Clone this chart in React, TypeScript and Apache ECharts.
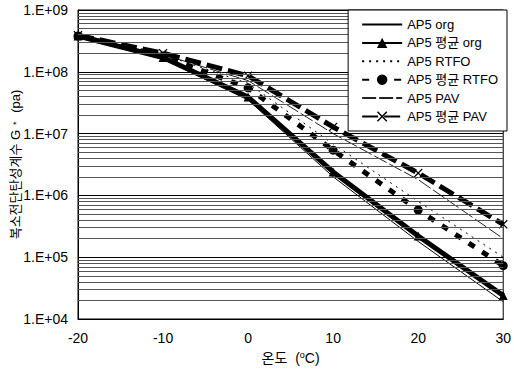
import React, { useEffect, useRef } from "react";
import * as echarts from "echarts";

const temps = [-20, -10, 0, 10, 20, 30];
const org = [3.6e8, 1.6e8, 3.5e7, 2.0e6, 1.8e5, 1.9e4];
const orgAvg = [3.8e8, 1.7e8, 3.9e7, 2.4e6, 2.2e5, 2.4e4];
const rtfo = [3.8e8, 1.9e8, 6.5e7, 6.8e6, 8.0e5, 1.0e5];
const rtfoAvg = [3.8e8, 1.8e8, 5.5e7, 5.4e6, 5.8e5, 7.3e4];
const pav = [3.8e8, 1.9e8, 7.2e7, 1.0e7, 1.8e6, 2.0e5];
const pavAvg = [3.9e8, 2.0e8, 8.6e7, 1.28e7, 2.3e6, 3.4e5];
const seriesNames = ["AP5 org", "AP5 평균 org", "AP5 RTFO", "AP5 평균 RTFO", "AP5 PAV", "AP5 평균 PAV"];
const decades = [4, 5, 6, 7, 8];
const minorSteps = [2, 3, 4, 5, 6, 7, 8, 9];

const FONT = "'Liberation Sans', Arial, 'Noto Sans CJK KR', sans-serif";
const X_SYMBOL = "path://M0,1 L1,0 L5,4 L9,0 L10,1 L6,5 L10,9 L9,10 L5,6 L1,10 L0,9 L4,5 Z";

const pairs = (ys: number[]) => temps.map((t, i) => [t, ys[i]]);

export default function App() {
  const ref = useRef<HTMLDivElement>(null);
  useEffect(() => {
    if (!ref.current) return;
    const chart = echarts.init(ref.current, undefined, { renderer: "svg" });
    const minorLines: any[] = [];
    decades.forEach((d) => minorSteps.forEach((m) => minorLines.push({ yAxis: m * Math.pow(10, d) })));
    const thin = (name: string, ys: number[], type: any, color = "#000") => ({
      name,
      type: "line",
      data: pairs(ys),
      symbol: "none",
      showSymbol: false,
      lineStyle: { color, width: 1, type },
      itemStyle: { color: "transparent", borderWidth: 0 },
      z: 3,
    });
    chart.setOption({
      animation: false,
      backgroundColor: "#fff",
      textStyle: { fontFamily: FONT },
      grid: { left: 78, right: 7, top: 10, bottom: 53, show: true, borderColor: "#000", borderWidth: 1 },
      legend: {
        data: seriesNames,
        orient: "vertical",
        right: 7,
        top: 10,
        z: 10,
        itemWidth: 40,
        itemHeight: 13,
        itemGap: 5.4,
        itemStyle: { borderWidth: 0 },
        padding: [8, 9, 8, 13],
        backgroundColor: "#fff",
        borderColor: "#000",
        borderWidth: 1,
        textStyle: { fontSize: 13, color: "#000", fontFamily: FONT },
      },
      xAxis: {
        type: "value",
        min: -20,
        max: 30,
        interval: 10,
        axisLine: { lineStyle: { color: "#000" } },
        axisTick: { show: false },
        splitLine: { show: false },
        axisLabel: { color: "#000", fontSize: 14, margin: 12 },
        name: "온도  ({s|o}C)",
        nameLocation: "middle",
        nameGap: 31,
        nameMoveOverlap: false,
        nameTextStyle: {
          color: "#000",
          fontSize: 14,
          rich: { s: { fontSize: 9, verticalAlign: "top", padding: [0, 0, 6, 0], color: "#000" } },
        },
      },
      yAxis: {
        type: "log",
        logBase: 10,
        min: 1e4,
        max: 1e9,
        axisLine: { show: true, onZero: false, lineStyle: { color: "#000" } },
        axisTick: { show: false },
        splitLine: { show: true, lineStyle: { color: "#000", width: 1 } },
        axisLabel: {
          color: "#000",
          fontSize: 14,
          margin: 10,
          formatter: (v: number) => {
            const e = Math.round(Math.log10(v));
            return "1.E+" + (e < 10 ? "0" + e : String(e));
          },
        },
        name: "복소전단탄성계수 G{s|*} (pa)",
        nameLocation: "middle",
        nameRotate: 90,
        nameGap: 56,
        nameMoveOverlap: false,
        nameTextStyle: {
          color: "#000",
          fontSize: 13,
          rich: { s: { fontSize: 9, color: "#000", padding: [0, 5, 0, 5] } },
        },
      },
      series: [
        {
          name: "_grid",
          type: "line",
          data: [],
          silent: true,
          z: 1,
          markLine: {
            silent: true,
            symbol: ["none", "none"],
            label: { show: false },
            lineStyle: { color: "#555", width: 1, type: "solid" },
            data: minorLines,
          },
        },
        thin("AP5 org", org, "solid"),
        {
          name: "AP5 평균 org",
          type: "line",
          data: pairs(orgAvg),
          symbol: "triangle",
          symbolSize: 9,
          lineStyle: { color: "#000", width: 5 },
          itemStyle: { color: "#000" },
          z: 4,
        },
        thin("AP5 RTFO", rtfo, [2, 5]),
        {
          name: "AP5 평균 RTFO",
          type: "line",
          data: pairs(rtfoAvg),
          symbol: "circle",
          symbolSize: 9,
          lineStyle: { color: "#000", width: 5, type: [7, 9] },
          itemStyle: { color: "#000" },
          z: 4,
        },
        thin("AP5 PAV", pav, [14, 3], "#222"),
        {
          name: "AP5 평균 PAV",
          type: "line",
          data: pairs(pavAvg),
          symbol: X_SYMBOL,
          symbolSize: 9,
          lineStyle: { color: "#000", width: 5, type: [16, 6] },
          itemStyle: { color: "#000" },
          z: 4,
        },
      ],
    });
    return () => chart.dispose();
  }, []);
  return (
    <div
      ref={ref}
      style={{ position: "fixed", left: 0, top: 0, width: 514, height: 372, background: "#fff" }}
    />
  );
}
